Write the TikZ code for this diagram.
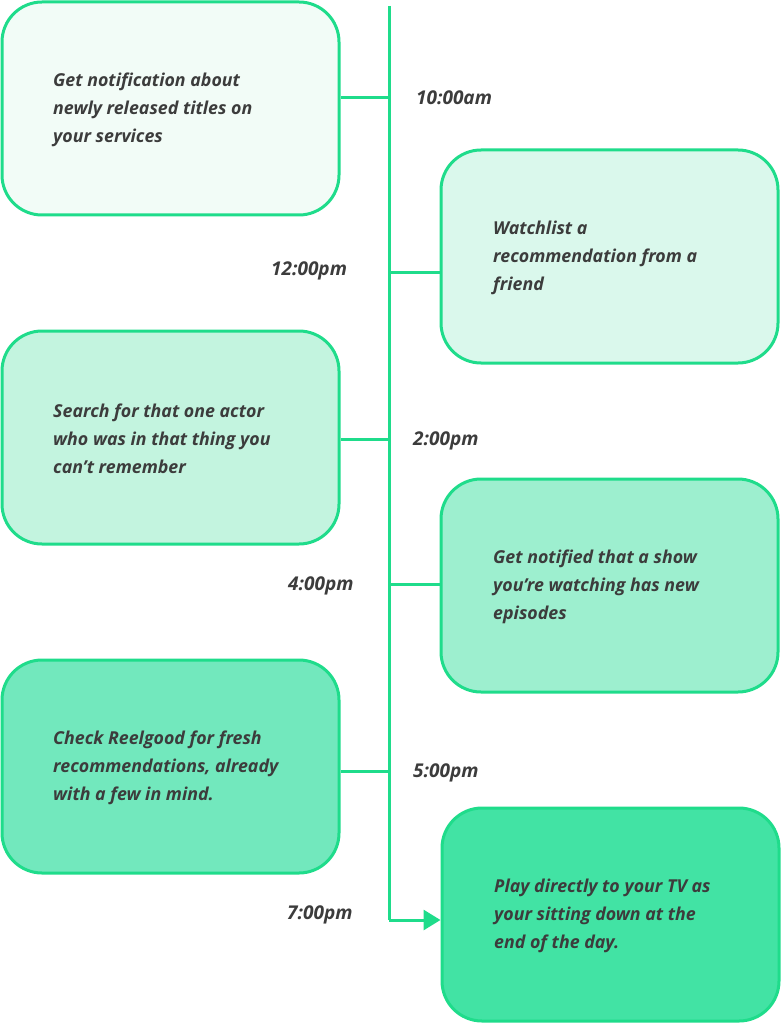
\documentclass[tikz,border=0pt]{standalone}
\usepackage{fontspec}
\setmainfont{Open Sans}
\usetikzlibrary{arrows.meta}
\definecolor{edge}{HTML}{1FDC8B}
\definecolor{txt}{HTML}{3C3C3C}
\definecolor{fa}{HTML}{F2FCF7}
\definecolor{fb}{HTML}{DAF8EC}
\definecolor{fc}{HTML}{C3F4DF}
\definecolor{fd}{HTML}{9DEFCF}
\definecolor{fe}{HTML}{72E8BD}
\definecolor{ff}{HTML}{42E3A4}
\tikzset{
  card/.style={draw=edge, line width=3pt, rounded corners=40pt, minimum width=337pt, minimum height=213pt, inner sep=0pt},
  cardtext/.style={anchor=west, align=left, inner sep=0pt, text=txt, font=\fontsize{17.8}{28}\selectfont\bfseries\itshape},
  timelbl/.style={anchor=west, inner sep=0pt, text=txt, font=\fontsize{19}{20}\selectfont\bfseries\itshape},
  link/.style={draw=edge, line width=3pt}
}
\begin{document}
\begin{tikzpicture}[x=1pt,y=-1pt]
\useasboundingbox (0,0) rectangle (781,1024);
% cards
\node[card, fill=fa] (c1) at (170.5,108.5) {};
\node[card, fill=fb] (c2) at (609.5,256.5) {};
\node[card, fill=fc] (c3) at (170.5,437.5) {};
\node[card, fill=fd] (c4) at (609.5,585.5) {};
\node[card, fill=fe] (c5) at (170.5,766.5) {};
\node[card, fill=ff] (c6) at (610.5,914.5) {};
% texts
\node[cardtext] (t1) at (53,110) {Get notification about\\newly released titles on\\your services};
\node[cardtext] (t2) at (493,258) {Watchlist a\\recommendation from a\\friend};
\node[cardtext] (t3) at (53,439) {Search for that one actor\\who was in that thing you\\can’t remember};
\node[cardtext] (t4) at (493,587) {Get notified that a show\\you’re watching has new\\episodes};
\node[cardtext] (t5) at (53,768) {Check Reelgood for fresh\\recommendations, already\\with a few in mind.};
\node[cardtext] (t6) at (494,916) {Play directly to your TV as\\your sitting down at the\\end of the day.};
% spine
\coordinate (top) at (389,6);
\coordinate (bend) at (389,920);
\coordinate (s1) at (389,98);
\coordinate (s2) at (389,272);
\coordinate (s3) at (389,439);
\coordinate (s4) at (389,584);
\coordinate (s5) at (389,771);
\draw[link] (top) -- (bend);
\draw[link, -{Triangle[length=17pt,width=20pt]}] (bend) -- (c6.west |- bend);
\draw[link] (c1.east |- s1) -- (s1);
\draw[link] (s2) -- (c2.west |- s2);
\draw[link] (c3.east |- s3) -- (s3);
\draw[link] (s4) -- (c4.west |- s4);
\draw[link] (c5.east |- s5) -- (s5);
% times
\node[timelbl] (h1) at (416,98) {10:00am};
\node[timelbl] (h2) at (271,271) {12:00pm};
\node[timelbl] (h3) at (413,441) {2:00pm};
\node[timelbl] (h4) at (288,586) {4:00pm};
\node[timelbl] (h5) at (413,773) {5:00pm};
\node[timelbl] (h6) at (287,915) {7:00pm};
\end{tikzpicture}
\end{document}
